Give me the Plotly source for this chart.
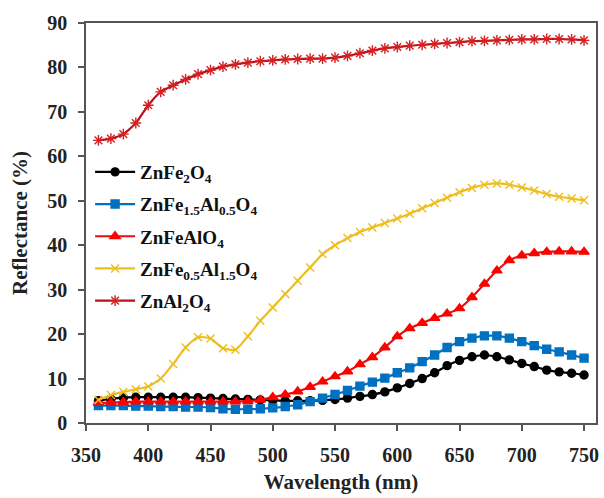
import plotly.graph_objects as go

# Wavelength grid (nm)
wavelength = list(range(360, 760, 10))

# Diffuse reflectance (%) of each spinel composition
r_znfe2o4 = [5.0, 5.4, 5.7, 5.8, 5.8, 5.8, 5.8, 5.8, 5.7, 5.6,
             5.5, 5.4, 5.3, 5.2, 5.1, 5.0, 5.0, 5.0, 5.1, 5.3,
             5.6, 6.0, 6.4, 7.0, 7.9, 8.9, 10.0, 11.3, 12.9, 14.1,
             14.9, 15.3, 14.9, 14.2, 13.4, 12.7, 11.9, 11.5, 11.2, 10.8]
r_znfe15al05o4 = [3.9, 3.9, 3.9, 3.8, 3.8, 3.7, 3.7, 3.6, 3.6, 3.5,
                  3.2, 3.1, 3.1, 3.2, 3.4, 3.7, 4.1, 4.8, 5.6, 6.4,
                  7.3, 8.3, 9.2, 10.1, 11.3, 12.4, 13.8, 15.3, 17.0, 18.3,
                  19.1, 19.6, 19.6, 19.1, 18.3, 17.4, 16.6, 16.0, 15.3, 14.6]
r_znfealo4 = [4.5, 4.6, 4.7, 4.8, 4.8, 4.8, 4.8, 4.8, 4.8, 4.8,
              4.8, 4.8, 4.9, 5.2, 5.8, 6.4, 7.1, 8.1, 9.3, 10.5,
              11.6, 13.2, 14.8, 17.0, 19.5, 21.3, 22.5, 23.6, 24.6, 25.8,
              28.3, 31.3, 34.3, 36.6, 37.7, 38.2, 38.5, 38.6, 38.6, 38.5]
r_znfe05al15o4 = [5.2, 6.3, 7.0, 7.6, 8.2, 10.0, 13.3, 17.0, 19.3, 19.0,
                  16.8, 16.5, 19.5, 23.0, 26.0, 29.0, 32.0, 35.0, 38.0, 40.0,
                  41.6, 43.0, 44.0, 45.0, 46.0, 47.1, 48.3, 49.5, 50.7, 51.9,
                  52.9, 53.6, 53.9, 53.6, 53.0, 52.3, 51.5, 50.9, 50.5, 50.1]
r_znal2o4 = [63.6, 64.0, 65.0, 67.5, 71.5, 74.5, 76.0, 77.3, 78.5, 79.4,
             80.2, 80.7, 81.1, 81.4, 81.6, 81.8, 81.9, 82.0, 82.0, 82.2,
             82.6, 83.2, 83.8, 84.3, 84.6, 84.9, 85.1, 85.3, 85.5, 85.7,
             85.9, 86.0, 86.1, 86.2, 86.3, 86.3, 86.4, 86.4, 86.3, 86.1]

x_ticks = [350, 400, 450, 500, 550, 600, 650, 700, 750]
y_ticks = [0, 10, 20, 30, 40, 50, 60, 70, 80, 90]

series = [
    ("ZnFe<sub>2</sub>O<sub>4</sub>", r_znfe2o4, "#000000", "#000000", "circle", 8),
    ("ZnFe<sub>1.5</sub>Al<sub>0.5</sub>O<sub>4</sub>", r_znfe15al05o4, "#0070C0", "#0070C0", "square", 8),
    ("ZnFeAlO<sub>4</sub>", r_znfealo4, "#E31010", "#FF0000", "triangle-up", 9),
    ("ZnFe<sub>0.5</sub>Al<sub>1.5</sub>O<sub>4</sub>", r_znfe05al15o4, "#EDBE1C", "#EDBE1C", "x-thin-open", 8),
    ("ZnAl<sub>2</sub>O<sub>4</sub>", r_znal2o4, "#B5121B", "#D42020", "asterisk-open", 9),
]

fig = go.Figure()
for i, (name, vals, lc, mc, sym, ms) in enumerate(series):
    fig.add_trace(go.Scatter(
        x=wavelength, y=vals, name=name, mode="lines+markers",
        legendgroup=f"g{i}",
        line=dict(color=lc, width=2.2, shape="spline", smoothing=0.6),
        marker=dict(symbol=sym, size=ms, color=mc,
                    line=dict(color=mc, width=1.4)),
    ))

serif = "Liberation Serif"
fig.update_layout(
    width=604, height=498,
    margin=dict(l=86, r=5, t=23, b=75),
    paper_bgcolor="white", plot_bgcolor="white",
    font=dict(family=serif, color="#222222"),
    showlegend=True,
    legend=dict(
        x=0.008, y=0.675, xanchor="left", yanchor="top",
        bgcolor="rgba(0,0,0,0)", borderwidth=0,
        font=dict(family=serif, size=19, color="#111111", weight="bold"),
        itemwidth=40, traceorder="grouped", tracegroupgap=4.5,
    ),
)
fig.update_xaxes(
    range=[350, 759.6], tickvals=x_ticks, ticks="outside", ticklen=6,
    tickwidth=1.5, tickcolor="#555555", ticklabelstandoff=7,
    showline=True, linecolor="#555555", linewidth=1.5, mirror=True,
    showgrid=False, zeroline=False,
    tickfont=dict(family=serif, size=20, color="#222222", weight="bold"),
    title=dict(text="Wavelength (nm)", standoff=10,
               font=dict(family=serif, size=21, color="#222222", weight="bold")),
)
fig.update_yaxes(
    range=[0, 90], tickvals=y_ticks, ticks="outside", ticklen=6,
    tickwidth=1.5, tickcolor="#555555", ticklabelstandoff=7,
    showline=True, linecolor="#555555", linewidth=1.5, mirror=True,
    showgrid=False, zeroline=False,
    tickfont=dict(family=serif, size=20, color="#222222", weight="bold"),
    title=dict(text="Reflectance (%)", standoff=14,
               font=dict(family=serif, size=21, color="#222222", weight="bold")),
)

fig.write_html("out.html")
